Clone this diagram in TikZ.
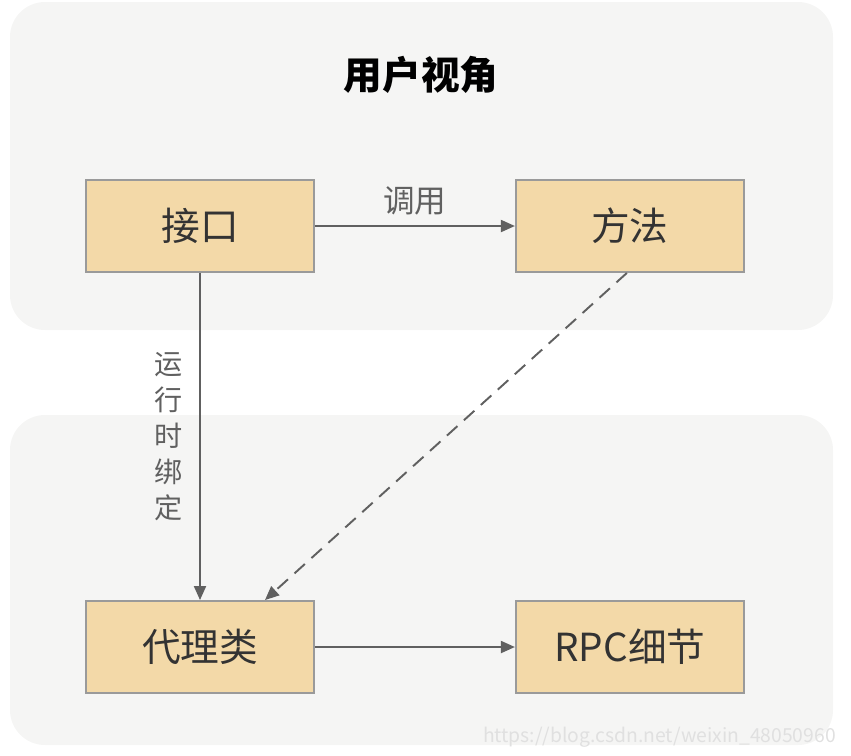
\documentclass[tikz,border=0pt]{standalone}
\usepackage{fontspec}
\setmainfont{Noto Sans CJK SC}
\usetikzlibrary{arrows.meta,positioning}

\definecolor{panelgray}{HTML}{F5F5F4}
\definecolor{boxfill}{HTML}{F3D9A8}
\definecolor{boxline}{HTML}{9A9A9A}
\definecolor{linkgray}{HTML}{606060}
\definecolor{textgray}{HTML}{333333}

\tikzset{
  panel/.style={fill=panelgray, draw=none, rounded corners=0.7cm},
  part/.style={rectangle, fill=boxfill, draw=boxline, line width=1.1pt,
    minimum width=4.56cm, minimum height=1.84cm, text=textgray,
    font=\fontsize{22}{26}\selectfont},
  link/.style={draw=linkgray, line width=1.1pt, -{Triangle[length=2.8mm,width=2.4mm]}},
  linklabel/.style={text=linkgray}
}

\begin{document}
\begin{tikzpicture}[x=0.02cm, y=-0.02cm]

    \useasboundingbox (0,0) rectangle (851,755);

    % Backgrounds
    \fill[panel] (10,2) rectangle (833,330);
    \fill[panel] (10,415) rectangle (833,745);

    % Title
    \node (title) at (421,75) {\fontsize{22}{26}\selectfont\bfseries 用户视角};

    % Boxes
    \node[part] (iface) at (200,226) {接口};
    \node[part, right=4cm of iface] (method) {方法};
    \node[part] (proxy) at (200,647) {代理类};
    \node[part, right=4cm of proxy] (rpc) {RPC细节};

    % Arrows
    \draw[link] (iface) -- node[linklabel, above=2pt, font=\fontsize{18}{22}\selectfont] (call) {调用} (method);
    \draw[link] (iface.south) -- node[linklabel, left=6pt, align=center, font=\fontsize{16}{20.5}\selectfont] (bind) {运\\行\\时\\绑\\定} (proxy.north);
    \draw[link, dash pattern=on 8pt off 5pt] ([xshift=-0.06cm]method.south) coordinate (m0) -- ([xshift=1.3cm]proxy.north);
    \draw[link] (proxy) -- (rpc);

    % Watermark
    \node[text=white!88!black, font=\fontsize{11}{13}\selectfont, anchor=east] (mark) at (842,737) {https://blog.csdn.net/weixin\_48050960};

\end{tikzpicture}
\end{document}
